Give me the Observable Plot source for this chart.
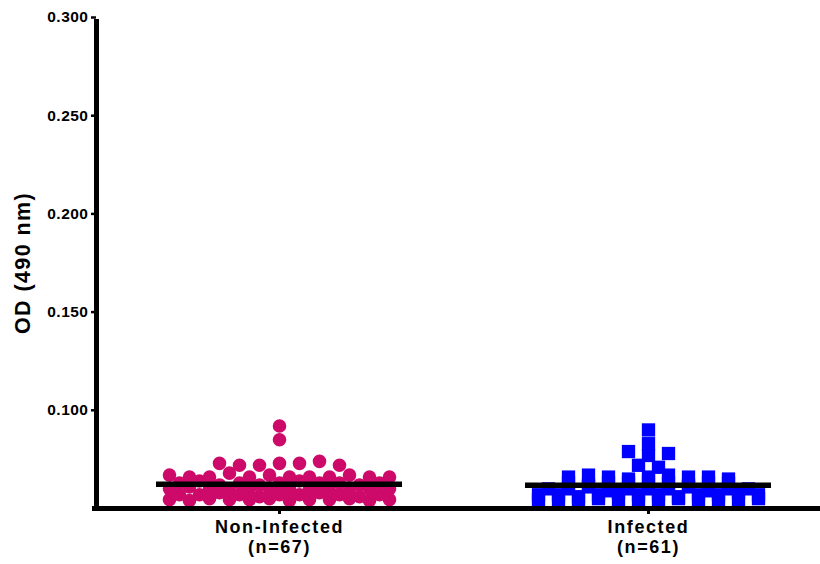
<!DOCTYPE html>
<html>
<head>
<meta charset="utf-8">
<script src="https://cdn.jsdelivr.net/npm/d3@7"></script>
<script src="https://cdn.jsdelivr.net/npm/@observablehq/plot@0.6"></script>
<style>
  html, body { margin: 0; padding: 0; background: #fff; }
  #chart svg { display: block; }
  g[aria-label="y-axis tick label"] text { letter-spacing: 0.5px; }
  g[aria-label="x-axis tick label"] text { letter-spacing: 1.6px; }
  g[aria-label="text"] text { letter-spacing: 1.4px; }
</style>
</head>
<body>
<div id="chart"></div>
<script>
// ---- data ----
const groups = ["Non-Infected", "Infected"];
const nLabels = ["(n=67)", "(n=61)"];
const yTicks = [0.100, 0.150, 0.200, 0.250, 0.300];
const yLabel = "OD (490 nm)";

const nonInfected = [
  0.092,
  0.085,
  0.073, 0.072, 0.072, 0.073, 0.073, 0.074, 0.072,
  0.067, 0.066, 0.066, 0.068, 0.066, 0.067, 0.066, 0.066, 0.066, 0.067, 0.066, 0.066,
  0.063, 0.064, 0.062, 0.063, 0.062, 0.063, 0.064, 0.063, 0.063, 0.062, 0.063,
  0.060, 0.061, 0.060, 0.059, 0.060, 0.060, 0.060, 0.060, 0.059, 0.060, 0.060, 0.060,
  0.057, 0.057, 0.058, 0.057, 0.056, 0.057, 0.057, 0.058, 0.057, 0.056, 0.057,
  0.0545, 0.054, 0.055, 0.0545, 0.0545, 0.055, 0.054, 0.0545, 0.0545, 0.055, 0.054, 0.0545
];

const infected = [
  0.090,
  0.083,
  0.079, 0.077, 0.078,
  0.072, 0.071,
  0.066, 0.067, 0.066, 0.065, 0.066, 0.067, 0.066, 0.066, 0.065,
  0.063, 0.062, 0.063, 0.063, 0.064, 0.063, 0.062, 0.063, 0.063,
  0.060, 0.060, 0.061, 0.059, 0.060, 0.060, 0.060, 0.061, 0.059, 0.060, 0.060,
  0.057, 0.057, 0.056, 0.057, 0.058, 0.057, 0.057, 0.056, 0.057, 0.057, 0.058, 0.057,
  0.0545, 0.054, 0.0545, 0.055, 0.0545, 0.054, 0.0545, 0.055, 0.0545, 0.054, 0.0545, 0.055
];

const series = [nonInfected, infected];
const colors = ["#cd0a6a", "#0000ff"];
const symbols = ["circle", "square"];

// ---- scatter-dot arrangement: similar values share a row, side by side ----
const step = 369;                // px between category centres
const spacing = 20 / step;       // horizontal gap between neighbouring points
const rowTol = 0.0025;           // values closer than this to a row's top share the row
function arrange(values, gi) {
  const order = d3.range(values.length).sort((a, b) => values[b] - values[a] || a - b);
  const rows = [];
  for (const i of order) {
    const last = rows[rows.length - 1];
    if (last && values[last[0]] - values[i] < rowTol) last.push(i);
    else rows.push([i]);
  }
  return rows.flatMap(row => {
    const r = row.slice().sort((a, b) => a - b);
    const n = r.length;
    return r.map((i, k) => ({gi, value: values[i], pos: gi + (k - (n - 1) / 2) * spacing}));
  });
}
const points = series.flatMap((vals, gi) => arrange(vals, gi));
const means = series.map((vals, gi) => ({gi, mean: d3.mean(vals)}));
const halfW = 123 / step;

const xDomain = [(96 - 279) / step, (820 - 279) / step];
const yDomain = [0.05, 0.30];
const font = "'Liberation Sans', Arial, Helvetica, sans-serif";

const chart = Plot.plot({
  width: 820,
  height: 564,
  marginLeft: 96,
  marginRight: 0,
  marginTop: 17,
  marginBottom: 56,
  style: {fontFamily: font, fontWeight: "bold", color: "#000", background: "#fff"},
  x: {domain: xDomain, axis: null},
  y: {domain: yDomain, axis: null},
  marks: [
    ...series.map((_, gi) => Plot.dot(points.filter(d => d.gi === gi), {
      x: "pos", y: "value", symbol: () => symbols[gi], r: gi === 0 ? 6.8 : 7.5,
      fill: colors[gi], stroke: "none"
    })),
    Plot.ruleY(means, {y: "mean", x1: d => d.gi - halfW, x2: d => d.gi + halfW, stroke: "#000", strokeWidth: 5.5}),
    Plot.ruleX([xDomain[0]], {y1: yDomain[0], y2: yDomain[1], stroke: "#000", strokeWidth: 5, insetTop: -2, insetBottom: -2}),
    Plot.ruleY([yDomain[0]], {stroke: "#000", strokeWidth: 5, insetLeft: -4}),
    Plot.axisY({ticks: yTicks, tickFormat: d3.format(".3f"), tickSize: 5, tickPadding: 3, strokeWidth: 2.5, fontSize: 15.5, fontWeight: "bold", label: null}),
    Plot.axisX({ticks: [0, 1], tickFormat: i => groups[i] + "\n" + nLabels[i], tickSize: 6, tickPadding: 4, strokeWidth: 3, fontSize: 18, fontWeight: "bold", lineHeight: 1.12, label: null}),
    Plot.text([yLabel], {frameAnchor: "left", textAnchor: "middle", dx: -73, rotate: -90, fontSize: 21.5, fontWeight: "bold", fill: "#000"})
  ]
});
document.getElementById("chart").appendChild(chart);
</script>
</body>
</html>
